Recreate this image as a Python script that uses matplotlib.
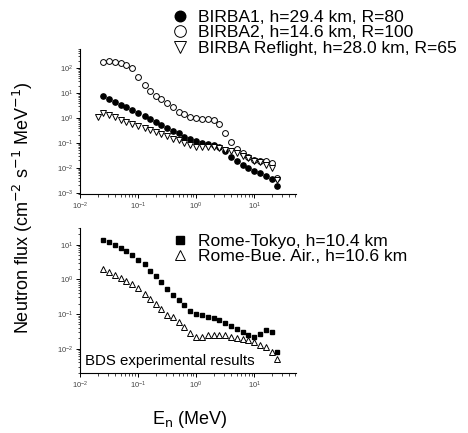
import numpy as np
import matplotlib.pyplot as plt
from matplotlib.ticker import LogLocator, NullFormatter

plt.rcParams['font.family'] = ['Liberation Sans', 'DejaVu Sans']

# energies (MeV)
energy = [0.025, 0.032, 0.040, 0.050, 0.063, 0.079, 0.10, 0.13, 0.16, 0.20,
          0.25, 0.32, 0.40, 0.50, 0.63, 0.79, 1.0, 1.26, 1.58, 2.0,
          2.5, 3.2, 4.0, 5.0, 6.3, 7.9, 10.0, 12.6, 15.8, 20.0, 25.0]
energy_refl = [0.020] + energy

birba1 = [7.5, 6.1, 4.6, 3.5, 2.7, 2.05, 1.56, 1.20, 0.91, 0.69,
          0.53, 0.41, 0.31, 0.24, 0.18, 0.14, 0.12, 0.10, 0.093, 0.083,
          0.071, 0.049, 0.027, 0.018, 0.0126, 0.0096, 0.0077, 0.0060, 0.0047, 0.0037, 0.0018]
birba2 = [174, 203, 185, 159, 136, 106, 46, 21, 12.6, 7.9,
          5.9, 3.9, 2.9, 1.8, 1.45, 1.15, 1.0, 0.92, 0.90, 0.85,
          0.56, 0.26, 0.11, 0.059, 0.041, 0.028, 0.021, 0.018, 0.0195, 0.015, 0.0038]
reflight = [1.14, 1.56, 1.28, 1.06, 0.87, 0.72, 0.59, 0.49, 0.40, 0.33, 0.27,
            0.22, 0.185, 0.15, 0.126, 0.103, 0.085, 0.071, 0.068, 0.071, 0.068,
            0.062, 0.053, 0.048, 0.041, 0.030, 0.024, 0.0196, 0.0167, 0.013, 0.0096, 0.0032]

rome_tokyo = [13.9, 12.4, 10.0, 8.0, 6.4, 5.2, 3.7, 2.7, 1.8, 1.24,
              0.84, 0.52, 0.35, 0.26, 0.18, 0.125, 0.103, 0.095, 0.084, 0.077,
              0.065, 0.055, 0.045, 0.036, 0.031, 0.025, 0.022, 0.027, 0.035, 0.031, 0.0079]
rome_bue = [2.0, 1.62, 1.38, 1.12, 0.89, 0.72, 0.58, 0.37, 0.27, 0.19,
            0.14, 0.094, 0.081, 0.058, 0.041, 0.029, 0.022, 0.022, 0.024, 0.024,
            0.025, 0.024, 0.022, 0.020, 0.019, 0.0174, 0.0155, 0.013, 0.011, 0.0081, 0.0049]

fig = plt.figure(figsize=(4.68, 4.33), dpi=100)
ax1 = fig.add_axes([0.171, 0.552, 0.462, 0.335])
ax2 = fig.add_axes([0.171, 0.139, 0.462, 0.335])

ms = 3.8
ax1.plot(energy, birba1, 'o', color='black', ms=ms, mec='black',
         label='BIRBA1, h=29.4 km, R=80')
ax1.plot(energy, birba2, 'o', mfc='white', mec='black', ms=ms + 0.4, mew=0.7,
         label='BIRBA2, h=14.6 km, R=100')
ax1.plot(energy_refl, reflight, 'v', mfc='white', mec='black', ms=ms + 0.6, mew=0.7,
         label='BIRBA Reflight, h=28.0 km, R=65')
ax1.set_ylim(8.9e-4, 600)

ax2.plot(energy, rome_tokyo, 's', color='black', ms=ms - 0.3,
         label='Rome-Tokyo, h=10.4 km')
ax2.plot(energy, rome_bue, '^', mfc='white', mec='black', ms=ms + 0.6, mew=0.7,
         label='Rome-Bue. Air., h=10.6 km')
ax2.set_ylim(0.002, 31)

for ax in (ax1, ax2):
    ax.set_xscale('log')
    ax.set_yscale('log')
    ax.set_xlim(0.01, 53)
    ax.spines['top'].set_visible(False)
    ax.spines['right'].set_visible(False)
    ax.spines['left'].set_linewidth(0.8)
    ax.spines['bottom'].set_linewidth(0.8)
    ax.xaxis.set_major_locator(LogLocator(base=10, numticks=10))
    ax.xaxis.set_minor_locator(LogLocator(base=10, subs=np.arange(2, 10), numticks=10))
    ax.yaxis.set_major_locator(LogLocator(base=10, numticks=10))
    ax.yaxis.set_minor_locator(LogLocator(base=10, subs=np.arange(2, 10), numticks=10))
    ax.xaxis.set_minor_formatter(NullFormatter())
    ax.yaxis.set_minor_formatter(NullFormatter())
    ax.tick_params(which='major', direction='out', length=3, width=0.7,
                   labelsize=5.5, labelcolor='#444444', pad=2)
    ax.tick_params(which='minor', direction='out', length=1.8, width=0.5)

leg1 = ax1.legend(loc='upper left', bbox_to_anchor=(0.365, 0.978),
                  bbox_transform=fig.transFigure, frameon=False, fontsize=12.6,
                  markerscale=2.0, handlelength=1.0, handletextpad=0.55,
                  labelspacing=0.02, borderpad=0, borderaxespad=0)
leg2 = ax2.legend(loc='upper left', bbox_to_anchor=(0.365, 0.461),
                  bbox_transform=fig.transFigure, frameon=False, fontsize=12.6,
                  markerscale=1.7, handlelength=1.0, handletextpad=0.55,
                  labelspacing=0.02, borderpad=0, borderaxespad=0)

ax2.text(0.025, 0.03, 'BDS experimental results', transform=ax2.transAxes,
         fontsize=10.8, ha='left', va='bottom')

fig.text(0.05, 0.52, 'Neutron flux (cm$^{-2}$ s$^{-1}$ MeV$^{-1}$)',
         rotation=90, ha='center', va='center', fontsize=13)
fig.text(0.405, 0.031, 'E$_{\\rm n}$ (MeV)', ha='center', va='center', fontsize=13)

fig.savefig('out.png', dpi=100)
